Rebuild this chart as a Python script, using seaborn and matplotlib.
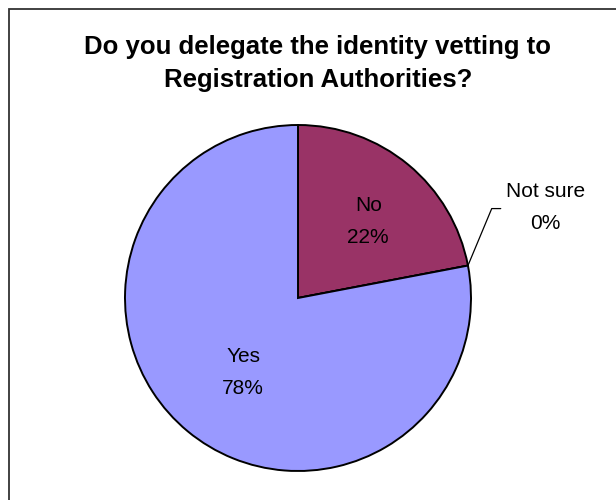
import numpy as np
import matplotlib
matplotlib.use("Agg")
import matplotlib.pyplot as plt
import seaborn as sns
from matplotlib.patches import Rectangle

sns.set_style("white")
plt.rcParams["font.family"] = ["Liberation Sans", "DejaVu Sans"]
plt.rcParams["text.color"] = "black"

# Survey answers, in clockwise order from 12 o'clock
categories = ["No", "Not sure", "Yes"]
percentages = [22, 0, 78]
slice_colors = ["#993366", "#FFFFCC", "#9999FF"]

title = "Do you delegate the identity vetting to\nRegistration Authorities?"

W, H = 616, 500
fig = plt.figure(figsize=(W / 100, H / 100), dpi=100)
ax = fig.add_axes([0, 0, 1, 1])
ax.set_xlim(0, W)
ax.set_ylim(0, H)
ax.set_aspect("equal")
ax.axis("off")

# Chart frame (runs off the right and bottom edges)
fig.patches.append(Rectangle((8.5 / W, -0.1), 1.2, 0.1 + (H - 9) / H,
                             transform=fig.transFigure, fill=False,
                             edgecolor="#333333", linewidth=1.3))

center = (298, H - 298)
radius = 173
wedges, _ = ax.pie(percentages, colors=slice_colors, startangle=90,
                   counterclock=False, radius=radius, center=center,
                   wedgeprops=dict(edgecolor="black", linewidth=1.4))
ax.set_xlim(0, W)
ax.set_ylim(0, H)

label_font = dict(fontsize=15, ha="center", va="center", linespacing=1.86,
                  color="black")
# (radius fraction, angular offset in degrees from the wedge middle)
label_pos = {"No": (0.60, -3.0), "Yes": (0.535, 3.2)}
for w, cat, pct in zip(wedges, categories, percentages):
    mid_deg = (w.theta1 + w.theta2) / 2
    text = f"{cat}\n{pct}%"
    if cat in label_pos:
        frac, off = label_pos[cat]
        a = np.deg2rad(mid_deg + off)
        r = frac * radius
        ax.text(center[0] + r * np.cos(a), center[1] + r * np.sin(a),
                text, **label_font)
    else:
        # zero-size slice: label outside with a leader line
        a = np.deg2rad(mid_deg)
        ex, ey = center[0] + radius * np.cos(a), center[1] + radius * np.sin(a)
        kx, ky = center[0] + 1.14 * radius * np.cos(a), ey + 57
        ax.plot([ex, kx, kx + 9], [ey, ky, ky], color="black", linewidth=0.9)
        ax.text(kx + 54, ky + 1, text, **label_font)

fig.text(318 / W, 1 - 63.5 / H, title, ha="center", va="center",
         fontsize=18.5, fontweight="bold", linespacing=1.48, color="black")

fig.savefig("out.png", dpi=100)
